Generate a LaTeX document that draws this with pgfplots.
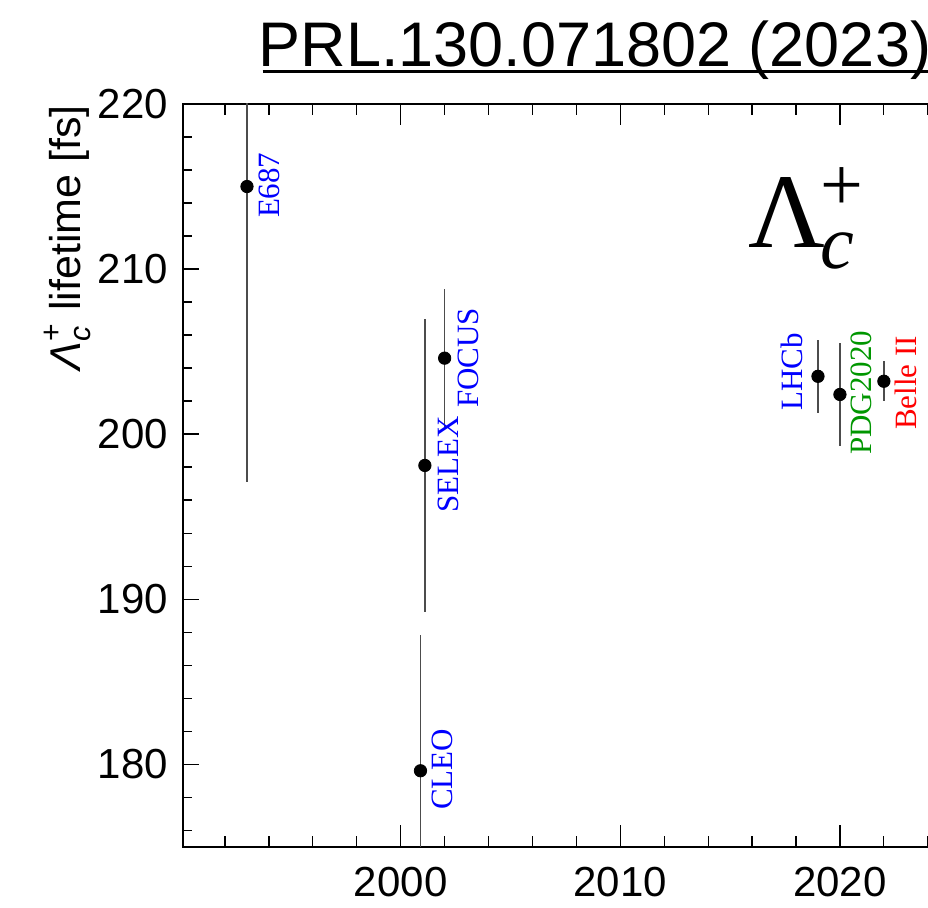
\documentclass[border=0pt]{standalone}
\usepackage{pgfplots}
\pgfplotsset{compat=1.18}
\usepackage{pgfplotstable}
\usepackage{amsmath}
\usepackage{fontspec}
\setmainfont{Liberation Sans}
\newfontfamily\serif{Liberation Serif}
\definecolor{lblue}{RGB}{0,0,255}
\definecolor{pdggreen}{RGB}{0,150,0}
\definecolor{lred}{RGB}{255,0,0}

\pgfplotstableread{
x y e
1993.0 215.0 17.9
2000.9 179.6 8.2
2001.1 198.1 8.9
2002.0 204.6 4.2
2019.0 203.5 2.2
2020.0 202.4 3.1
2022.0 203.2 1.2
}\lifetimes

\begin{document}
\begin{tikzpicture}
\useasboundingbox (-91.65pt,-30.65pt) rectangle (372.35pt,423.35pt);
\clip (-91.65pt,-30.65pt) rectangle (372.35pt,423.35pt);
\begin{axis}[
  at={(0pt,0pt)}, anchor=south west,
  scale only axis, width=394.2pt, height=371.35pt,
  xmin=1990.1, xmax=2026, ymin=175, ymax=220,
  axis line style={line width=1pt},
  xtick={2000,2010,2020}, minor xtick={1990,1992,...,2026},
  ytick={180,190,200,210,220}, minor ytick={176,178,...,220},
  xtick style={line width=0.6pt, black, /pgfplots/major tick length=10.6pt, /pgfplots/minor tick length=5.4pt},
  ytick style={line width=0.6pt, black, /pgfplots/major tick length=8pt, /pgfplots/minor tick length=4.3pt},
  tick label style={font=\fontsize{21}{25}\selectfont},
  /pgf/number format/assume math mode=true,
  /pgf/number format/1000 sep={},
  scaled x ticks=false, scaled y ticks=false,
  xticklabel style={inner sep=0pt, yshift=-10pt},
  yticklabel style={inner sep=0pt, xshift=-7.5pt},
]
\addplot[only marks, mark=*, mark size=3.1pt, mark options={black, fill=black}, black,
  error bars/.cd, y dir=both, y explicit, error mark=none,
  error bar style={line width=0.7pt, black!70}]
  table[x=x, y=y, y error=e]{\lifetimes};

\node[rotate=90, anchor=base west, inner sep=0pt, text=lblue, font=\serif\fontsize{15.5}{18}\selectfont] at (axis cs:1994.5,213.07) {E687};
\node[rotate=90, anchor=base west, inner sep=0pt, text=lblue, font=\serif\fontsize{15.5}{18}\selectfont] at (axis cs:2002.61,195.2) {SELEX};
\node[rotate=90, anchor=base west, inner sep=0pt, text=lblue, font=\serif\fontsize{15.5}{18}\selectfont] at (axis cs:2003.52,201.56) {FOCUS};
\node[rotate=90, anchor=base west, inner sep=0pt, text=lblue, font=\serif\fontsize{15.5}{18}\selectfont] at (axis cs:2002.37,177.21) {CLEO};
\node[rotate=90, anchor=base west, inner sep=0pt, text=lblue, font=\serif\fontsize{15.5}{18}\selectfont] at (axis cs:2018.31,201.41) {LHCb};
\node[rotate=90, anchor=base west, inner sep=0pt, text=pdggreen, font=\serif\fontsize{15.5}{18}\selectfont] at (axis cs:2021.45,198.73) {PDG2020};
\node[rotate=90, anchor=base west, inner sep=0pt, text=lred, font=\serif\fontsize{15.5}{18}\selectfont] at (axis cs:2023.5,200.24) {Belle II};

\node[anchor=base west, inner sep=0pt, font=\serif\fontsize{53}{60}\selectfont] at (axis cs:2015.8,211.33) {Λ\kern-2pt\makebox[0pt][l]{\raisebox{18.5pt}{\fontsize{38}{40}\selectfont +}}\raisebox{-10.5pt}{\fontsize{38}{40}\selectfont\itshape c}};

\coordinate (tl) at (rel axis cs:0,1);
\end{axis}
\node[rotate=90, anchor=base east, inner sep=0pt, font=\fontsize{21.5}{25}\selectfont] at ([xshift=-51.6pt, yshift=-0.5pt]tl) {$\text{\itshape Λ}_{\text{\itshape c}}^{\text{+}}$ lifetime [fs]};
\node[anchor=base west, inner sep=0pt, font=\fontsize{31.5}{36}\selectfont] (T) at (37.5pt,390pt) {PRL.130.071802 (2023)};
\draw[line width=1.6pt] ([xshift=2.2pt,yshift=-2.4pt]T.base west) -- ([yshift=-2.4pt]T.base east);
\end{tikzpicture}
\end{document}
